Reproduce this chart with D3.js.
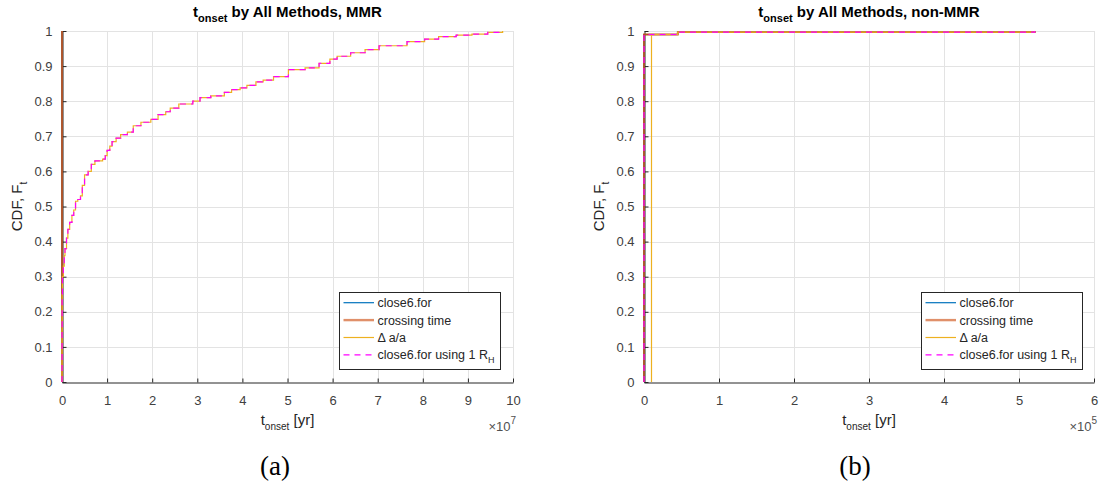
<!DOCTYPE html>
<html>
<head>
<meta charset="utf-8">
<script src="https://cdn.jsdelivr.net/npm/d3@7"></script>
<style>
  html, body { margin: 0; padding: 0; background: #fff; }
  svg { display: block; font-family: "Liberation Sans", Arial, Helvetica, sans-serif; }
</style>
</head>
<body>
<svg id="fig" width="1099" height="490"></svg>
<script>
// ---- Panel (a): MMR, onset time in units of 1e7 yr ----
const mmrXTicks = [0, 1, 2, 3, 4, 5, 6, 7, 8, 9, 10];
const yTicks = [0, 0.1, 0.2, 0.3, 0.4, 0.5, 0.6, 0.7, 0.8, 0.9, 1];
const yTickLabels = ["0", "0.1", "0.2", "0.3", "0.4", "0.5", "0.6", "0.7", "0.8", "0.9", "1"];

// close6.for and crossing time: all onsets at ~0
const mmrClose6T = [0, 0];
const mmrClose6F = [0, 1];
const mmrCrossT = [0, 0];
const mmrCrossF = [0, 1];
// Δa/a and close6.for using 1 R_H (coincide)
const mmrDaT = [0, 0, 0.001, 0.003, 0.01, 0.03, 0.05, 0.066, 0.1, 0.13, 0.17, 0.22, 0.26, 0.3, 0.35, 0.41,
  0.45, 0.5, 0.58, 0.65, 0.73, 0.9, 0.96, 1.0, 1.06, 1.11, 1.2, 1.3, 1.45, 1.58, 1.75, 1.97, 2.13, 2.3,
  2.4, 2.59, 2.9, 3.06, 3.3, 3.6, 3.76, 3.95, 4.1, 4.3, 4.46, 4.69, 5.02, 5.39, 5.7, 5.94, 6.1, 6.4,
  6.72, 7.03, 7.65, 8.04, 8.35, 8.74, 9.09, 9.44, 9.77];
const mmrDaF = [0, 0.05, 0.15, 0.25, 0.3, 0.33, 0.36, 0.38, 0.41, 0.435, 0.455, 0.475, 0.49, 0.515, 0.52, 0.53,
  0.56, 0.59, 0.6, 0.62, 0.63, 0.635, 0.645, 0.66, 0.672, 0.685, 0.695, 0.705, 0.712, 0.73, 0.74, 0.748, 0.762, 0.77,
  0.78, 0.792, 0.8, 0.81, 0.815, 0.825, 0.833, 0.838, 0.845, 0.855, 0.86, 0.87, 0.89, 0.895, 0.908, 0.92, 0.928, 0.938,
  0.947, 0.958, 0.97, 0.977, 0.984, 0.988, 0.991, 0.996, 1.0];
const mmr1RhT = mmrDaT;
const mmr1RhF = mmrDaF;

// ---- Panel (b): non-MMR, onset time in units of 1e5 yr ----
const nonXTicks = [0, 1, 2, 3, 4, 5, 6];
const nonClose6T = [0, 0, 0.45, 5.21];
const nonClose6F = [0, 0.99, 0.997, 1];
const nonCrossT = [0, 0, 0.45, 5.21];
const nonCrossF = [0, 0.99, 0.997, 1];
const nonDaT = [0.1, 0.1, 0.45, 5.21];
const nonDaF = [0, 0.99, 0.997, 1];
const non1RhT = [0, 0, 0.45, 5.21];
const non1RhF = [0, 0.99, 0.997, 1];

const seriesStyle = [
  { name: "close6.for", color: "#0072BD", width: 1.2, dash: null },
  { name: "crossing time", color: "#D95319", width: 1.8, dash: null },
  { name: "\u0394 a/a", color: "#EDB120", width: 1.2, dash: null },
  { name: "close6.for using 1 R", sub: "H", color: "#FF00FF", width: 1.2, dash: "6,5" }
];

const svg = d3.select("#fig");

function drawPanel(p) {
  const x = d3.scaleLinear().domain([p.xTicks[0], p.xTicks[p.xTicks.length - 1]]).range([p.left, p.right]);
  const y = d3.scaleLinear().domain([0, 1]).range([p.bottom, p.top]);
  const g = svg.append("g");

  // grid
  g.append("g").selectAll("line").data(p.xTicks.slice(1)).join("line")
    .attr("x1", d => Math.round(x(d)) + 0.5).attr("x2", d => Math.round(x(d)) + 0.5)
    .attr("y1", p.top).attr("y2", p.bottom)
    .attr("stroke", "#e3e3e3").attr("stroke-width", 1);
  g.append("g").selectAll("line").data(yTicks.slice(1)).join("line")
    .attr("y1", d => Math.round(y(d)) + 0.5).attr("y2", d => Math.round(y(d)) + 0.5)
    .attr("x1", p.left).attr("x2", p.right)
    .attr("stroke", "#e3e3e3").attr("stroke-width", 1);

  // axes (inward ticks)
  const xAxis = d3.axisBottom(x).tickValues(p.xTicks).tickFormat(d3.format("d")).tickSizeInner(-4).tickSizeOuter(0).tickPadding(13);
  const yAxis = d3.axisLeft(y).tickValues(yTicks).tickFormat((d, i) => yTickLabels[i]).tickSizeInner(-4).tickSizeOuter(0).tickPadding(10);
  const gx = g.append("g").attr("transform", `translate(0,${Math.round(p.bottom) + 0.5})`).call(xAxis);
  const gy = g.append("g").attr("transform", `translate(${Math.round(p.left) + 0.5},0)`).call(yAxis);
  [gx, gy].forEach(a => {
    a.select(".domain").attr("stroke", "#262626");
    a.selectAll(".tick line").attr("stroke", "#262626");
    a.selectAll(".tick text").attr("fill", "#404040").style("font-size", "13px")
      .style("font-family", "'Liberation Sans', Arial, sans-serif");
  });

  // CDF curves
  const line = d3.line().x(d => x(d[0])).y(d => y(d[1])).curve(d3.curveStepAfter);
  p.series.forEach((s, i) => {
    const st = seriesStyle[i];
    const pts = s.t.map((t, k) => [t, s.f[k]]);
    g.append("path").datum(pts).attr("d", line)
      .attr("fill", "none").attr("stroke", i === 1 ? "#B8501E" : st.color).attr("stroke-width", st.width)
      .attr("stroke-dasharray", st.dash);
  });

  // title
  const cx = (p.left + p.right) / 2;
  const title = g.append("text").attr("x", cx).attr("y", 17).attr("text-anchor", "middle")
    .style("font-size", "15px").style("font-weight", "bold").attr("fill", "#000");
  title.append("tspan").text("t");
  title.append("tspan").attr("dy", 5).style("font-size", "11px").text("onset");
  title.append("tspan").attr("dy", -5).text(" by All Methods, " + p.label);

  // x label
  const xl = g.append("text").attr("x", cx).attr("y", 425).attr("text-anchor", "middle")
    .style("font-size", "15px").attr("fill", "#262626");
  xl.append("tspan").text("t");
  xl.append("tspan").attr("dy", 5).style("font-size", "10px").text("onset");
  xl.append("tspan").attr("dy", -5).text(" [yr]");

  // exponent
  const ex = g.append("text").attr("x", p.right + 3).attr("y", 431).attr("text-anchor", "end")
    .style("font-size", "13px").attr("fill", "#505050");
  ex.append("tspan").text("\u00d710");
  ex.append("tspan").attr("dy", -7).style("font-size", "10px").text(p.exponent);

  // y label
  const yl = g.append("text").attr("transform", `translate(${p.left - 40},${(p.top + p.bottom) / 2}) rotate(-90)`)
    .attr("text-anchor", "middle").style("font-size", "15px").attr("fill", "#262626");
  yl.append("tspan").text("CDF, F");
  yl.append("tspan").attr("dy", 5).style("font-size", "10px").text("t");

  // legend
  const lg = g.append("g");
  lg.append("rect").attr("x", p.legX + 0.5).attr("y", 292.5).attr("width", 161).attr("height", 77)
    .attr("fill", "#fff").attr("stroke", "#262626").attr("stroke-width", 1);
  seriesStyle.forEach((st, i) => {
    const ly = 302.7 + i * 17.4;
    lg.append("line").attr("x1", p.legX + 4.5).attr("x2", p.legX + 35).attr("y1", ly).attr("y2", ly)
      .attr("stroke", i === 1 ? "#E0906A" : st.color).attr("stroke-width", i === 1 ? 2.4 : st.width)
      .attr("stroke-dasharray", st.dash);
    const t = lg.append("text").attr("x", p.legX + 38.5).attr("y", ly + 4.5)
      .style("font-size", "12.5px").attr("fill", "#262626");
    t.append("tspan").text(st.name);
    if (st.sub) t.append("tspan").attr("dy", 4).style("font-size", "9px").text(st.sub);
  });

  // caption
  svg.append("text").attr("x", p.capX).attr("y", 475).attr("text-anchor", "middle")
    .style("font-family", "'Liberation Serif', 'DejaVu Serif', serif").style("font-size", "27px")
    .attr("fill", "#000").text(p.caption);
}

drawPanel({
  left: 62, right: 513, top: 31, bottom: 382, xTicks: mmrXTicks, label: "MMR", exponent: "7",
  legX: 339, caption: "(a)", capX: 275,
  series: [
    { t: mmrClose6T, f: mmrClose6F }, { t: mmrCrossT, f: mmrCrossF },
    { t: mmrDaT, f: mmrDaF }, { t: mmr1RhT, f: mmr1RhF }
  ]
});
drawPanel({
  left: 644, right: 1094, top: 31, bottom: 382, xTicks: nonXTicks, label: "non-MMR", exponent: "5",
  legX: 921, caption: "(b)", capX: 855,
  series: [
    { t: nonClose6T, f: nonClose6F }, { t: nonCrossT, f: nonCrossF },
    { t: nonDaT, f: nonDaF }, { t: non1RhT, f: non1RhF }
  ]
});
</script>
</body>
</html>
